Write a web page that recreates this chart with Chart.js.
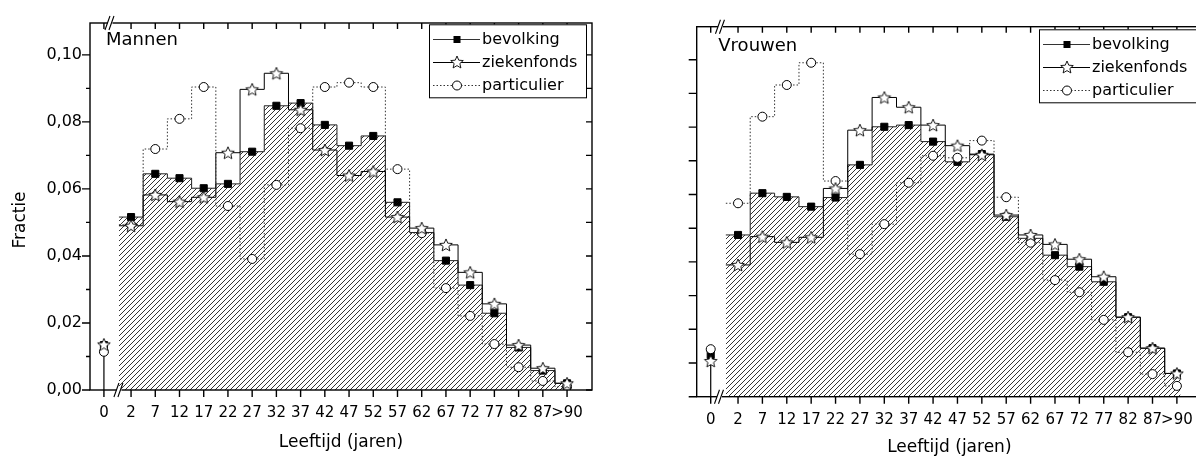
<!DOCTYPE html>
<html>
<head>
<meta charset="utf-8">
<script src="https://cdn.jsdelivr.net/npm/chart.js@4.4.1/dist/chart.umd.min.js"></script>
<style>
  html, body { margin: 0; padding: 0; background: #fff; overflow: hidden; width: 1196px; height: 461px; }
  #mannen { position: absolute; left: 0; top: 0; }
  #vrouwen { position: absolute; left: 600px; top: 0; }
</style>
</head>
<body>
<canvas id="mannen" width="600" height="461"></canvas>
<canvas id="vrouwen" width="610" height="461"></canvas>
<script>
// leeftijdsklassen
const ages = ['0', '2', '7', '12', '17', '22', '27', '32', '37', '42', '47', '52', '57', '62', '67', '72', '77', '82', '87', '>90'];

// Mannen
const mannenBevolking   = [0.0134, 0.0516, 0.0645, 0.0632, 0.0602, 0.0615, 0.0711, 0.0848, 0.0856, 0.0791, 0.0729, 0.0758, 0.0560, 0.0470, 0.0386, 0.0313, 0.0229, 0.0127, 0.0058, 0.0020];
const mannenZiekenfonds = [0.0136, 0.0490, 0.0582, 0.0562, 0.0575, 0.0708, 0.0897, 0.0945, 0.0836, 0.0716, 0.0640, 0.0652, 0.0516, 0.0483, 0.0433, 0.0351, 0.0257, 0.0134, 0.0065, 0.0020];
const mannenParticulier = [0.0114, 0.0493, 0.0719, 0.0809, 0.0904, 0.0549, 0.0391, 0.0612, 0.0781, 0.0904, 0.0917, 0.0904, 0.0659, 0.0468, 0.0304, 0.0221, 0.0137, 0.0068, 0.0027, 0.0010];

// Vrouwen
const vrouwenBevolking   = [0.0124, 0.0480, 0.0604, 0.0593, 0.0564, 0.0591, 0.0688, 0.0801, 0.0806, 0.0757, 0.0697, 0.0720, 0.0534, 0.0470, 0.0420, 0.0386, 0.0341, 0.0236, 0.0144, 0.0069];
const vrouwenZiekenfonds = [0.0106, 0.0391, 0.0475, 0.0458, 0.0473, 0.0618, 0.0791, 0.0888, 0.0859, 0.0806, 0.0745, 0.0718, 0.0539, 0.0480, 0.0452, 0.0408, 0.0356, 0.0236, 0.0144, 0.0069];
const vrouwenParticulier = [0.0141, 0.0574, 0.0831, 0.0925, 0.0991, 0.0640, 0.0423, 0.0512, 0.0635, 0.0715, 0.0709, 0.0760, 0.0592, 0.0457, 0.0346, 0.0310, 0.0228, 0.0132, 0.0067, 0.0032];

// y-as labels
const yLabelValues = [0, 0.02, 0.04, 0.06, 0.08, 0.10];

// positie op de as: 0 staat los (asbreuk), de rest op gelijke afstand
const agePos = ages.map((a, i) => i === 0 ? 0 : i + 0.12);

const FONT = 'DejaVu Sans';

// arcering voor bevolking
const hatchCanvas = document.createElement('canvas');
hatchCanvas.width = 5; hatchCanvas.height = 5;
(function () {
  const g = hatchCanvas.getContext('2d');
  g.strokeStyle = '#000';
  g.lineWidth = 0.8;
  g.beginPath();
  g.moveTo(0, 5); g.lineTo(5, 0);
  g.moveTo(-1, 1); g.lineTo(1, -1);
  g.moveTo(4, 6); g.lineTo(6, 4);
  g.stroke();
})();
const hatch = hatchCanvas.getContext('2d').createPattern(hatchCanvas, 'repeat');

// open ster
function makeStar() {
  const c = document.createElement('canvas');
  c.width = 16; c.height = 16;
  const g = c.getContext('2d');
  g.beginPath();
  for (let k = 0; k < 10; k++) {
    const r = k % 2 ? 3 : 6.6;
    const ang = -Math.PI / 2 + k * Math.PI / 5;
    const px = 8 + r * Math.cos(ang), py = 8.6 + r * Math.sin(ang);
    if (k) g.lineTo(px, py); else g.moveTo(px, py);
  }
  g.closePath();
  g.fillStyle = '#fff'; g.fill();
  g.strokeStyle = '#000'; g.lineWidth = 0.9; g.stroke();
  return c;
}
const star = makeStar();

function stepPoints(vals) {
  const pts = [];
  for (let i = 1; i < ages.length; i++) pts.push({x: agePos[i] - 0.5, y: vals[i]});
  pts.push({x: agePos[ages.length - 1] + 0.15, y: vals[ages.length - 1]});
  return pts;
}
function markPoints(vals) {
  return vals.map((v, i) => ({x: agePos[i], y: v}));
}

const decor = {
  id: 'decor',
  afterDraw(chart, args, o) {
    const {ctx, chartArea: a, scales: {x, y}} = chart;
    ctx.save();
    ctx.strokeStyle = '#000';
    ctx.lineWidth = 1.4;
    ctx.strokeRect(a.left, a.top, a.right - a.left, a.bottom - a.top);
    ctx.beginPath();
    agePos.forEach(v => {
      const px = x.getPixelForValue(v);
      ctx.moveTo(px, a.bottom); ctx.lineTo(px, a.bottom + 7);
      ctx.moveTo(px, a.top); ctx.lineTo(px, a.top + 6);
    });
    for (let k = 0; k <= 10; k++) {
      const py = y.getPixelForValue(k / 100);
      const len = (o.minorShort && k % 2) ? 4 : 8;
      ctx.moveTo(a.left, py); ctx.lineTo(a.left - len, py);
      ctx.moveTo(a.right, py); ctx.lineTo(a.right - 6, py);
    }
    ctx.stroke();

    // asbreuk
    ctx.lineWidth = 1.1;
    [[o.breakTop, a.top], [o.breakBottom, a.bottom]].forEach(([v, py]) => {
      const px = x.getPixelForValue(v);
      ctx.fillStyle = '#fff';
      ctx.fillRect(px - 3, py - 1.5, 5, 3);
      ctx.beginPath();
      ctx.moveTo(px - 5.5, py + 7); ctx.lineTo(px - 0.5, py - 7);
      ctx.moveTo(px - 1.5, py + 7); ctx.lineTo(px + 3.5, py - 7);
      ctx.stroke();
    });

    // titel
    ctx.fillStyle = '#000';
    ctx.textBaseline = 'middle';
    ctx.textAlign = 'left';
    ctx.font = '18px "' + FONT + '"';
    ctx.fillText(o.title, a.left + o.titleDx, a.top + o.titleDy);

    if (o.yTitle) {
      ctx.save();
      ctx.translate(o.yTitleX, o.yTitleY);
      ctx.rotate(-Math.PI / 2);
      ctx.textAlign = 'center';
      ctx.font = '17px "' + FONT + '"';
      ctx.fillText(o.yTitle, 0, 0);
      ctx.restore();
    }

    // legenda
    const lx = a.right - 163, ly = a.top + o.legendDy, lw = 157, lh = 73;
    ctx.fillStyle = '#fff';
    ctx.fillRect(lx, ly, lw, lh);
    ctx.lineWidth = 1;
    ctx.strokeStyle = '#000';
    ctx.strokeRect(lx + 0.5, ly + 0.5, lw, lh);
    const rows = [
      {label: 'bevolking', dash: [], color: '#333', kind: 'rect'},
      {label: 'ziekenfonds', dash: [], color: '#000', kind: 'star'},
      {label: 'particulier', dash: [1.5, 2], color: '#333', kind: 'circle'}
    ];
    ctx.font = '16px "' + FONT + '"';
    rows.forEach((r, i) => {
      const ry = Math.round(ly + 15 + i * 22.7) + 0.5;
      ctx.strokeStyle = r.color;
      ctx.setLineDash(r.dash);
      ctx.beginPath();
      ctx.moveTo(lx + 4, ry); ctx.lineTo(lx + 51, ry);
      ctx.stroke();
      ctx.setLineDash([]);
      const mx = lx + 28;
      if (r.kind === 'rect') {
        ctx.fillStyle = '#000';
        ctx.fillRect(mx - 3.5, ry - 3.5, 7, 7);
      } else if (r.kind === 'star') {
        ctx.drawImage(star, Math.round(mx - 8), Math.round(ry - 8.6));
      } else {
        ctx.beginPath();
        ctx.arc(mx, ry, 4.5, 0, Math.PI * 2);
        ctx.fillStyle = '#fff'; ctx.fill();
        ctx.strokeStyle = '#000'; ctx.stroke();
      }
      ctx.fillStyle = '#000';
      ctx.fillText(r.label, lx + 53, ry);
    });
    ctx.restore();
  }
};

function makePanel(id, bev, zf, part, o) {
  const stemTop = Math.max(bev[0], zf[0], part[0]);
  return new Chart(document.getElementById(id), {
    type: 'line',
    data: {
      datasets: [
        {data: stepPoints(bev), stepped: true, fill: 'origin', backgroundColor: hatch,
         borderColor: '#222', borderWidth: 1, pointRadius: 0, order: 6},
        {data: stepPoints(zf), stepped: true, fill: false,
         borderColor: '#000', borderWidth: 1, pointRadius: 0, order: 5},
        {data: stepPoints(part), stepped: true, fill: false, borderDash: [1.5, 2],
         borderColor: '#333', borderWidth: 1, pointRadius: 0, order: 4},
        {data: [{x: 0, y: 0}, {x: 0, y: stemTop}], fill: false,
         borderColor: '#000', borderWidth: 1.2, pointRadius: 0, order: 3},
        {data: markPoints(bev), showLine: false, pointStyle: 'rect', pointRadius: 5,
         pointBackgroundColor: '#000', pointBorderColor: '#000', pointBorderWidth: 1, order: 2},
        {data: markPoints(part), showLine: false, pointStyle: 'circle', pointRadius: 4.5,
         pointBackgroundColor: '#fff', pointBorderColor: '#000', pointBorderWidth: 1, order: 1},
        {data: markPoints(zf), showLine: false, pointStyle: star, pointRadius: 7, order: 0}
      ]
    },
    options: {
      responsive: false,
      animation: false,
      events: [],
      layout: {padding: {top: o.top, right: o.right, left: 0, bottom: 0}},
      plugins: {
        legend: {display: false},
        tooltip: {enabled: false},
        decor: o.decor
      },
      scales: {
        x: {
          type: 'linear', min: -0.575, max: 20.15,
          grid: {display: false, drawTicks: false},
          border: {display: false},
          afterBuildTicks: s => { s.ticks = agePos.map(v => ({value: v})); },
          ticks: {autoSkip: false, maxRotation: 0, padding: 14, color: '#000',
                  font: {family: FONT, size: 15}, callback: (v, i) => ages[i]},
          title: {display: true, text: 'Leeftijd (jaren)', color: '#000',
                  font: {family: FONT, size: 17}, padding: {top: 0, bottom: o.xTitlePad}},
          afterFit: s => { s.height = o.xh; }
        },
        y: {
          min: 0, max: o.ymax,
          grid: {display: false, drawTicks: false},
          border: {display: false},
          afterBuildTicks: s => { s.ticks = yLabelValues.map(v => ({value: v})); },
          ticks: {display: o.yLabels, padding: 8, color: '#000', font: {family: FONT, size: 16},
                  callback: v => v.toFixed(2).replace('.', ',')},
          afterFit: s => { s.width = o.yw; }
        }
      }
    },
    plugins: [decor]
  });
}

makePanel('mannen', mannenBevolking, mannenZiekenfonds, mannenParticulier, {
  top: 23, right: 6.4, xh: 71, yw: 90, ymax: 0.1095, yLabels: true, xTitlePad: 8,
  decor: {title: 'Mannen', titleDx: 16, titleDy: 17, minorShort: true, breakTop: 0.27, breakBottom: 0.64,
          legendDy: 1.3, yTitle: 'Fractie', yTitleX: 21, yTitleY: 220}
});

makePanel('vrouwen', vrouwenBevolking, vrouwenZiekenfonds, vrouwenParticulier, {
  top: 26.7, right: 6.2, xh: 64.3, yw: 96.7, ymax: 0.1098, yLabels: false, xTitlePad: 3,
  decor: {title: 'Vrouwen', titleDx: 21.6, titleDy: 20, minorShort: false, breakTop: 0.42, breakBottom: 0.38,
          legendDy: 2.6, yTitle: null}
});
</script>
</body>
</html>
